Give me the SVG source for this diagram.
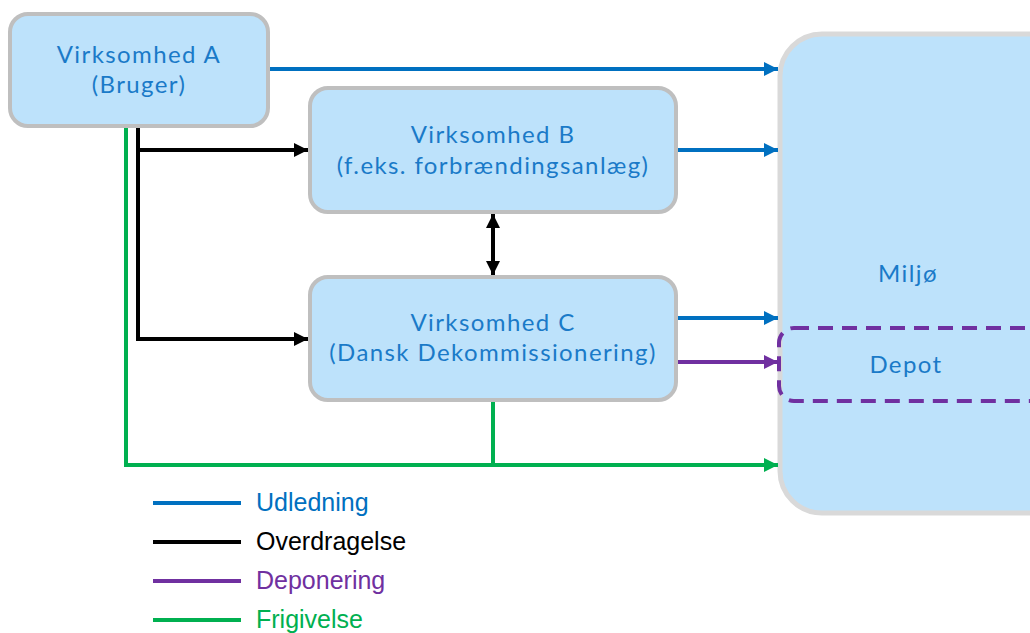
<svg xmlns="http://www.w3.org/2000/svg" width="1030" height="633" viewBox="0 0 1030 633">
<defs>
<style>
.node{fill:#bde2fb;stroke:#bfbfbf;stroke-width:4}
.env{fill:#bde2fb;stroke:#d9d9d9;stroke-width:5}
.lbl{font-family:Lato,"Open Sans",sans-serif;font-weight:400;font-size:24px;letter-spacing:1.4px;fill:#1a7ac8;text-anchor:middle}
.leg{font-family:"Liberation Sans",Arial,sans-serif;font-size:25px}
.c{fill:none;stroke-width:4}
.blue{stroke:#0070c0}.black{stroke:#000}.purple{stroke:#7030a0}.green{stroke:#00b050}
</style>
<marker id="ab" markerUnits="userSpaceOnUse" markerWidth="14" markerHeight="16" refX="14" refY="8" orient="auto"><path d="M0,1 L14,8 L0,15 Z" fill="#0070c0"/></marker>
<marker id="ak" markerUnits="userSpaceOnUse" markerWidth="14" markerHeight="16" refX="14" refY="8" orient="auto-start-reverse"><path d="M0,1 L14,8 L0,15 Z" fill="#000"/></marker>
<marker id="ap" markerUnits="userSpaceOnUse" markerWidth="14" markerHeight="16" refX="14" refY="8" orient="auto"><path d="M0,1 L14,8 L0,15 Z" fill="#7030a0"/></marker>
<marker id="ag" markerUnits="userSpaceOnUse" markerWidth="14" markerHeight="16" refX="14" refY="8" orient="auto"><path d="M0,1 L14,8 L0,15 Z" fill="#00b050"/></marker>
</defs>
<rect width="1030" height="633" fill="#fff"/>
<g id="miljo">
<rect class="env" x="780" y="34" width="300" height="479" rx="42"/>
<text class="lbl" x="908" y="282">Miljø</text>
</g>
<g id="depot">
<rect x="779" y="328" width="290" height="73" rx="15" fill="none" stroke="#7030a0" stroke-width="4" stroke-dasharray="15 9"/>
<text class="lbl" x="906" y="373">Depot</text>
</g>
<g id="nodeA">
<rect class="node" x="10" y="14" width="258" height="112" rx="18"/>
<text class="lbl" x="139" y="63">Virksomhed A</text>
<text class="lbl" x="139" y="93">(Bruger)</text>
</g>
<g id="nodeB">
<rect class="node" x="310" y="88" width="366" height="124" rx="18"/>
<text class="lbl" x="493" y="143">Virksomhed B</text>
<text class="lbl" x="493" y="174">(f.eks. forbrændingsanlæg)</text>
</g>
<g id="nodeC">
<rect class="node" x="310" y="277" width="366" height="123" rx="18"/>
<text class="lbl" x="493" y="331">Virksomhed C</text>
<text class="lbl" x="493" y="361">(Dansk Dekommissionering)</text>
</g>
<g id="connectors">
<path class="c blue" d="M270,69 H778" marker-end="url(#ab)"/>
<path class="c blue" d="M678,150 H778" marker-end="url(#ab)"/>
<path class="c blue" d="M678,318 H778" marker-end="url(#ab)"/>
<path class="c purple" d="M678,362 H778" marker-end="url(#ap)"/>
<path class="c black" d="M138,128 V339 H308" marker-end="url(#ak)"/>
<path class="c black" d="M138,150 H308" marker-end="url(#ak)"/>
<path class="c black" d="M493,214 V275" marker-start="url(#ak)" marker-end="url(#ak)"/>
<path class="c green" d="M126,128 V465 H778" marker-end="url(#ag)"/>
<path class="c green" d="M493,402 V465"/>
</g>
<g id="legend">
<path class="c blue" d="M153,503 H241"/>
<path class="c black" d="M153,542 H241"/>
<path class="c purple" d="M153,581 H241"/>
<path class="c green" d="M153,620 H241"/>
<text class="leg" x="256" y="511" fill="#0070c0">Udledning</text>
<text class="leg" x="256" y="550" fill="#000">Overdragelse</text>
<text class="leg" x="256" y="589" fill="#7030a0">Deponering</text>
<text class="leg" x="256" y="628" fill="#00b050">Frigivelse</text>
</g>
</svg>
